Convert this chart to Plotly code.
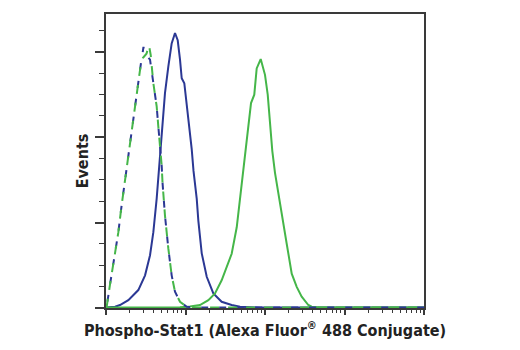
import plotly.graph_objects as go

# Fluorescence intensity (log scale) and event counts
ctrl_blue_x = [1.0, 1.02, 1.12, 1.27, 1.43, 1.57, 1.82, 2.00, 2.20, 2.43, 2.75, 2.88, 2.96,
               3.10, 3.30, 3.58, 3.94, 4.34, 4.55, 4.78, 5.02, 5.14, 5.52, 6.08, 6.70,
               7.38, 8.53, 10.35, 13.2, 10000]
ctrl_blue_y = [0.3, 0.6, 10.7, 23.3, 35.5, 47.9, 66.0, 75.8, 86.7, 100.6, 114.6, 119.1, 122.3,
               118.8, 118.0, 116.3, 105.3, 94.4, 85.1, 77.3, 66.5, 58.7, 43.3, 27.9, 15.3,
               7.6, 2.9, 0.6, 0.2, 0.2]

ctrl_green_x = [1.0, 1.02, 1.12, 1.27, 1.43, 1.57, 1.82, 2.00, 2.20, 2.43, 2.75, 2.92, 3.23,
                3.47, 3.65, 3.94, 4.34, 4.55, 4.78, 5.02, 5.14, 5.52, 6.08, 6.70,
                7.38, 8.53, 10.35, 13.2, 10000]
ctrl_green_y = [0.3, 0.6, 10.7, 23.3, 35.5, 47.9, 66.0, 75.8, 86.7, 100.6, 114.6, 117.2, 119.1,
                123.1, 118.5, 105.3, 94.4, 85.1, 77.3, 66.5, 58.7, 43.3, 27.9, 15.3,
                7.6, 2.9, 0.6, 0.2, 0.2]

untreated_x = [1.0, 1.19, 1.30, 1.50, 1.91, 2.55, 3.10, 3.58, 3.94, 4.34, 4.68, 4.82, 5.11,
               5.52, 6.08, 6.70, 7.38, 7.98, 8.53, 8.96, 9.66, 10.35, 11.07, 11.97, 12.61,
               13.84, 14.5, 16.0, 18.5, 22.4, 28.5, 38.1, 48.5, 86.5, 10000]
untreated_y = [0.2, 0.3, 0.6, 1.4, 3.7, 8.4, 15.3, 24.7, 35.5, 51.2, 66.5, 75.8, 86.7,
               100.6, 113.0, 123.9, 128.8, 125.4, 116.3, 107.6, 105.3, 96.0, 85.1, 74.4, 64.2,
               51.2, 40.9, 25.6, 14.6, 6.8, 2.9, 1.4, 0.6, 0.2, 0.2]

treated_x = [1.0, 8.53, 11.4, 15.2, 19.4, 23.5, 28.5, 33.0, 38.1, 44.1, 48.5, 52.9, 57.2,
             61.7, 66.7, 73.3, 78.6, 88.3, 100, 108.2, 115.6, 123.6, 133.6, 154.5, 170.0,
             187.5, 216.8, 250.5, 289.5, 350.6, 386.6, 492, 10000]
treated_y = [0.2, 0.3, 0.7, 1.4, 3.7, 6.8, 13.0, 19.2, 25.4, 37.8, 51.8, 63.3, 75.0,
             85.9, 96.0, 99.9, 112.2, 116.6, 109.2, 99.9, 85.9, 73.5, 63.3, 48.7, 37.8,
             30.1, 16.1, 9.9, 5.3, 1.4, 0.6, 0.2, 0.2]

x_title = "Phospho-Stat1 (Alexa Fluor<sup>®</sup> 488 Conjugate)"
y_title = "Events"

BLUE = "#2B3894"
GREEN = "#45B649"
AX = "#3a3a3a"
FONT = "Liberation Sans Narrow, DejaVu Sans Condensed, Arial Narrow, sans-serif"

fig = go.Figure()
fig.add_trace(go.Scatter(x=untreated_x, y=untreated_y, mode="lines",
                         line=dict(color=BLUE, width=2), showlegend=False))
fig.add_trace(go.Scatter(x=treated_x, y=treated_y, mode="lines",
                         line=dict(color=GREEN, width=2), showlegend=False))
fig.add_trace(go.Scatter(x=ctrl_blue_x, y=ctrl_blue_y, mode="lines",
                         line=dict(color=BLUE, width=2, dash="0px,6px,7px,5px"), showlegend=False))
fig.add_trace(go.Scatter(x=ctrl_green_x, y=ctrl_green_y, mode="lines",
                         line=dict(color=GREEN, width=2, dash="9px,9px"), showlegend=False))

fig.update_layout(
    width=520, height=350,
    margin=dict(l=106, r=96, t=12, b=42),
    paper_bgcolor="white", plot_bgcolor="white",
    font=dict(family=FONT, color="#222222"),
)
fig.update_xaxes(
    type="log", range=[0, 4], dtick=1,
    showgrid=False, zeroline=False,
    showline=True, linecolor=AX, linewidth=2, mirror=True,
    ticks="outside", ticklen=5, tickwidth=1.5, tickcolor=AX,
    showticklabels=False,
    minor=dict(ticks="outside", ticklen=3, tickwidth=1, tickcolor=AX, dtick="D1", showgrid=False),
    title=dict(text=x_title, font=dict(size=16, family=FONT, weight="bold"), standoff=11),
)
fig.update_yaxes(
    range=[0, 137.7], dtick=40, tick0=0,
    showgrid=False, zeroline=False,
    showline=True, linecolor=AX, linewidth=2, mirror=True,
    ticks="outside", ticklen=9, tickwidth=1.5, tickcolor=AX,
    showticklabels=False,
    minor=dict(ticks="outside", ticklen=5, tickwidth=1, tickcolor=AX, dtick=10, showgrid=False),
    title=dict(text=y_title, font=dict(size=16, family=FONT, weight="bold"), standoff=2),
)

fig.write_html("out.html")
